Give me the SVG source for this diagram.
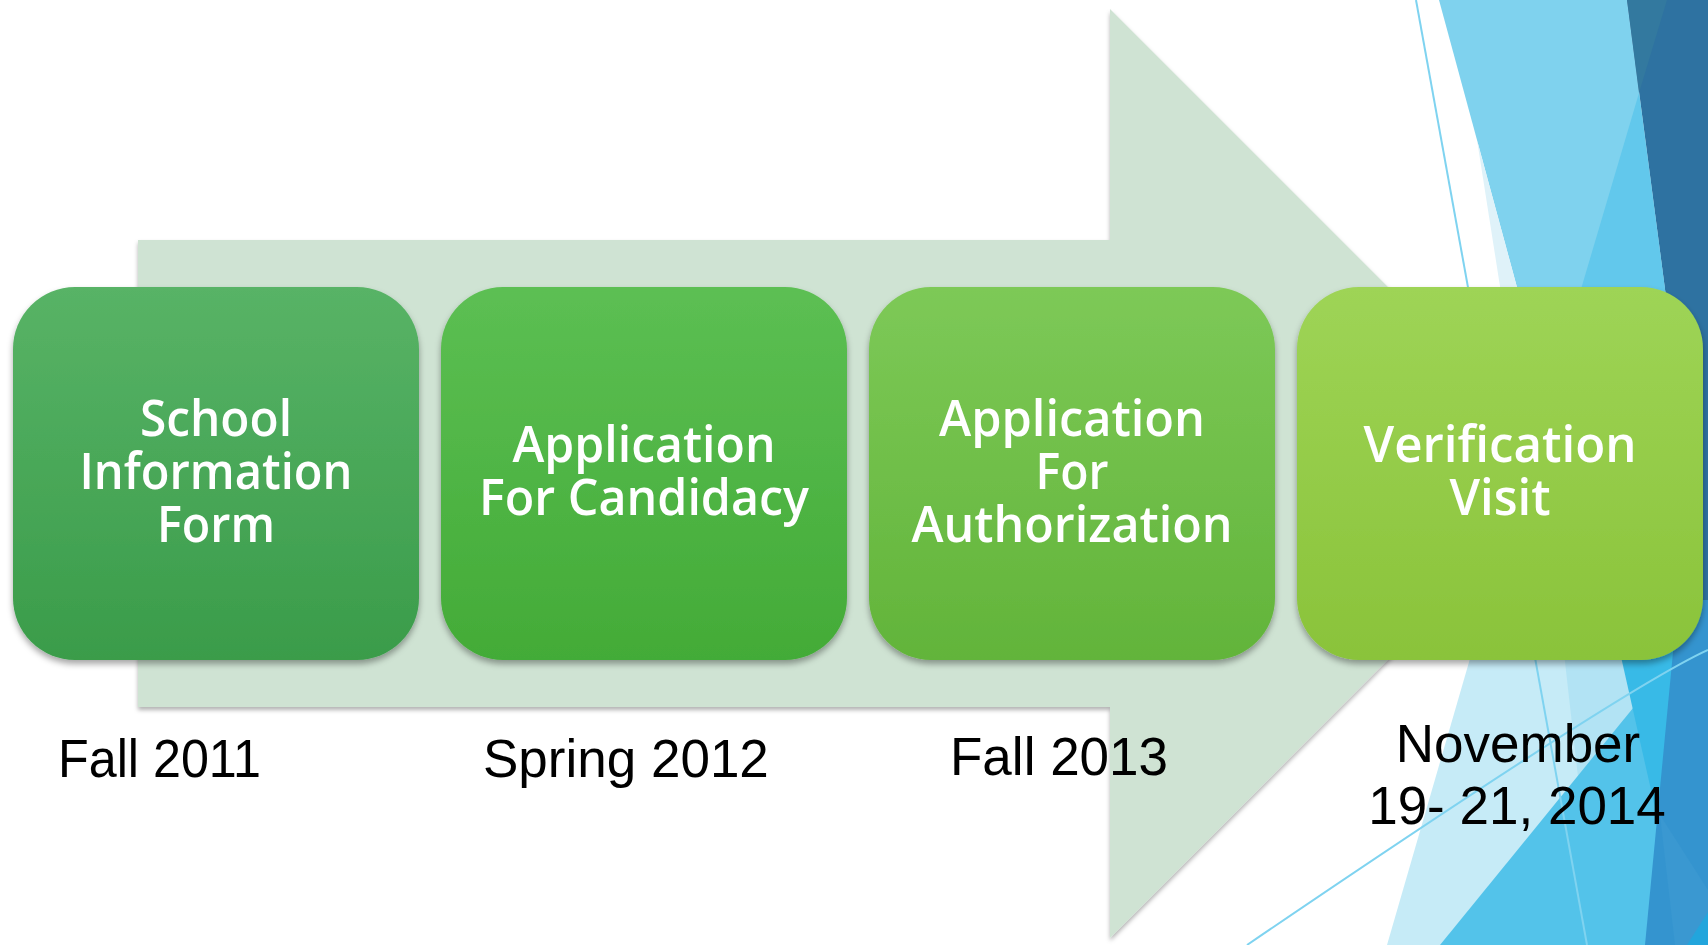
<svg xmlns="http://www.w3.org/2000/svg" width="1708" height="945" viewBox="0 0 1708 945">
<defs>
<style>
.box text{font-family:"Open Sans","DejaVu Sans",sans-serif;font-weight:600;font-size:50px;fill:#ffffff;text-anchor:middle}
.date{font-family:"Liberation Sans",Arial,sans-serif;font-size:53px;fill:#000000}
.thin{fill:none;stroke:#7fd3f0;stroke-width:2}
</style>
<filter id="sh" x="-5%" y="-5%" width="110%" height="115%">
<feDropShadow dx="0" dy="4" stdDeviation="3" flood-color="#000" flood-opacity="0.35"/>
</filter>
<filter id="ash" x="-5%" y="-5%" width="110%" height="110%">
<feDropShadow dx="0" dy="3" stdDeviation="2" flood-color="#000" flood-opacity="0.3"/>
</filter>
<linearGradient id="g1" x1="0" y1="0" x2="0" y2="1"><stop offset="0" stop-color="#58b366"/><stop offset="1" stop-color="#3a9c4a"/></linearGradient>
<linearGradient id="g2" x1="0" y1="0" x2="0" y2="1"><stop offset="0" stop-color="#5cbf53"/><stop offset="1" stop-color="#43ab37"/></linearGradient>
<linearGradient id="g3" x1="0" y1="0" x2="0" y2="1"><stop offset="0" stop-color="#7dc957"/><stop offset="1" stop-color="#62b43a"/></linearGradient>
<linearGradient id="g4" x1="0" y1="0" x2="0" y2="1"><stop offset="0" stop-color="#9ed456"/><stop offset="1" stop-color="#8ac33a"/></linearGradient>
</defs>
<rect width="1708" height="945" fill="#ffffff"/>
<g id="background">
<polygon points="1439,0 1627,0 1673,350 1534,350" fill="#7fd2ee"/>
<polygon points="1477,140 1534,350 1510,350" fill="#dff2f9"/>
<polygon points="1627,0 1708,0 1708,945 1673,350" fill="#2e72a1"/>
<polygon points="1627,0 1667,0 1639,93" fill="#33799f"/>
<polygon points="1639,93 1673,350 1563,350" fill="#62c8ec"/>
<polygon points="1487,600 1708,600 1708,945 1387,945" fill="#c6ebf7"/>
<polygon points="1558,600 1614,600 1665,830 1620,945 1597,945" fill="#b2e3f4"/>
<polygon points="1440,945 1708,616 1708,945" fill="#53c3ea"/>
<polygon points="1615,630 1678,600 1660,830" fill="#38bae7"/>
<polygon points="1678,600 1708,600 1708,945 1645,945" fill="#3494cf"/>
<polygon points="1660,815 1708,890 1708,945 1675,945" fill="#3a98d1"/>
<polygon points="1708,912 1708,945 1687,945" fill="#22a5dc"/>
<line class="thin" x1="1416" y1="0" x2="1587" y2="945"/>
<path class="thin" d="M1247,945 Q1628,686 1708,650"/>
</g>
<g id="arrow">
<polygon points="138,240 1110,240 1110,9 1574,473 1110,938 1110,707 138,707" fill="#cfe3d3" filter="url(#ash)"/>
</g>
<g id="node1" class="box">
<rect x="13" y="287" width="406" height="373" rx="62" fill="url(#g1)" filter="url(#sh)"/>
<text x="216" y="436" textLength="152" lengthAdjust="spacingAndGlyphs">School</text>
<text x="216" y="489" textLength="273" lengthAdjust="spacingAndGlyphs">Information</text>
<text x="216" y="542" textLength="118" lengthAdjust="spacingAndGlyphs">Form</text>
</g>
<g id="node2" class="box">
<rect x="441" y="287" width="406" height="373" rx="62" fill="url(#g2)" filter="url(#sh)"/>
<text x="644" y="462" textLength="263" lengthAdjust="spacingAndGlyphs">Application</text>
<text x="644" y="515" textLength="330" lengthAdjust="spacingAndGlyphs">For Candidacy</text>
</g>
<g id="node3" class="box">
<rect x="869" y="287" width="406" height="373" rx="62" fill="url(#g3)" filter="url(#sh)"/>
<text x="1072" y="436" textLength="266" lengthAdjust="spacingAndGlyphs">Application</text>
<text x="1072" y="489" textLength="73" lengthAdjust="spacingAndGlyphs">For</text>
<text x="1072" y="542" textLength="321" lengthAdjust="spacingAndGlyphs">Authorization</text>
</g>
<g id="node4" class="box">
<rect x="1297" y="287" width="406" height="373" rx="62" fill="url(#g4)" filter="url(#sh)"/>
<text x="1500" y="462" textLength="273" lengthAdjust="spacingAndGlyphs">Verification</text>
<text x="1500" y="515" textLength="101" lengthAdjust="spacingAndGlyphs">Visit</text>
</g>
<g id="dates">
<text class="date" x="58" y="777" textLength="203" lengthAdjust="spacingAndGlyphs">Fall 2011</text>
<text class="date" x="483" y="777">Spring 2012</text>
<text class="date" x="950" y="775">Fall 2013</text>
<text class="date" x="1518" y="762" text-anchor="middle">November</text>
<text class="date" x="1517" y="824" text-anchor="middle">19- 21, 2014</text>
</g>
</svg>
